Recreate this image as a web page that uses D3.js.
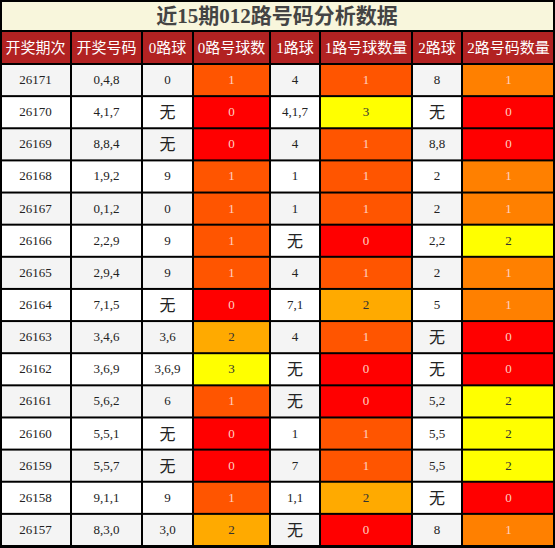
<!DOCTYPE html><html><head><meta charset="utf-8"><script src="https://cdn.jsdelivr.net/npm/d3@7"></script>
<style>body{margin:0;background:#fff}</style></head><body><svg id="c" width="555" height="548"></svg>
<script>
const title="近15期012路号码分析数据";
const headers=["开奖期次","开奖号码","0路球","0路号球数","1路球","1路号球数量","2路球","2路号码数量"];
const periods=["26171","26170","26169","26168","26167","26166","26165","26164","26163","26162","26161","26160","26159","26158","26157"];
const numbers=["0,4,8","4,1,7","8,8,4","1,9,2","0,1,2","2,2,9","2,9,4","7,1,5","3,4,6","3,6,9","5,6,2","5,5,1","5,5,7","9,1,1","8,3,0"];
const road0=["0","无","无","9","0","9","9","无","3,6","3,6,9","6","无","无","9","3,0"];
const count0=[1,0,0,1,1,1,1,0,2,3,1,0,0,1,2];
const road1=["4","4,1,7","4","1","1","无","4","7,1","4","无","无","1","7","1,1","无"];
const count1=[1,3,1,1,1,0,1,2,1,0,0,1,1,2,0];
const road2=["8","无","8,8","2","2","2,2","2","5","无","无","5,2","5,5","5,5","无","8"];
const count2=[1,0,0,1,1,2,1,1,0,0,2,2,2,0,1];

const svg=d3.select("#c");
const colEdges=[0,71,142,193,270,320,412,462,555];
const x=d3.scaleOrdinal().domain(d3.range(8)).range(colEdges.slice(0,8));
const w=i=>colEdges[i+1]-colEdges[i];
const y=d3.scaleBand().domain(d3.range(15)).range([64,546]);
const c01=d3.scaleOrdinal().domain([0,1,2,3]).range(["#ff0000","#ff5500","#ffaa00","#ffff00"]);
const c2=d3.scaleOrdinal().domain([0,1,2,3]).range(["#ff0000","#ff8000","#ffff00","#ffff00"]);
const txtCol=v=>v<2?"#ffd0c0":"#333";
const serif="'Liberation Serif','DejaVu Serif','Noto Sans CJK SC',serif";
svg.append("rect").attr("width",555).attr("height",548).attr("fill","#000");
svg.append("rect").attr("x",2).attr("y",2).attr("width",551).attr("height",28).attr("fill","#f8f6dc");
svg.append("text").attr("x",277).attr("y",23).attr("text-anchor","middle").attr("font-size",21).attr("font-weight","bold").attr("fill","#444").attr("font-family",serif).text(title);
headers.forEach((h,i)=>{
 svg.append("rect").attr("x",x(i)+(i?1:2)).attr("y",32).attr("width",w(i)-(i?2:3)-(i==7?1:0)).attr("height",31).attr("fill","#b22222");
 svg.append("text").attr("x",x(i)+w(i)/2).attr("y",53).attr("text-anchor","middle").attr("font-size",15).attr("fill","#fff").attr("font-family",serif).text(h);
});
const rows=periods.map((p,r)=>[
 {t:p},{t:numbers[r]},{t:road0[r]},{t:count0[r],bg:c01(count0[r]),c:count0[r]},
 {t:road1[r]},{t:count1[r],bg:c01(count1[r]),c:count1[r]},{t:road2[r]},{t:count2[r],bg:c2(count2[r]),c:count2[r]}]);
rows.forEach((row,r)=>{
 const base=r%2==0?"#f4f4f4":"#fff";
 row.forEach((cell,i)=>{
  svg.append("rect").attr("x",x(i)+(i?1:2)).attr("y",y(r)+1).attr("width",w(i)-(i?2:3)-(i==7?1:0)).attr("height",y.bandwidth()-2).attr("fill",cell.bg||base);
  const isWu=cell.t==="无";
  svg.append("text").attr("x",x(i)+w(i)/2).attr("y",y(r)+y.bandwidth()/2+(isWu?6:4)).attr("text-anchor","middle")
   .attr("font-size",isWu?16:13).attr("font-family",isWu?"'Noto Sans CJK SC',sans-serif":serif)
   .attr("fill",cell.c!==undefined?txtCol(cell.c):"#222").text(cell.t);
 });
});
</script></body></html>
